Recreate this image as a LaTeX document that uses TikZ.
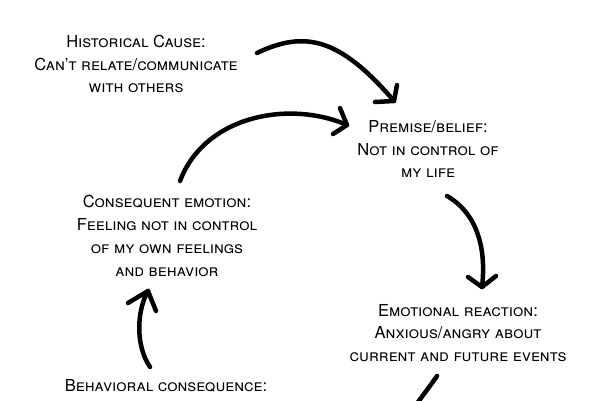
\documentclass[tikz,border=0pt]{standalone}
\usepackage{fontspec}
\setmainfont{TeX Gyre Heros}
\begin{document}
\begin{tikzpicture}[x=1pt,y=-1pt,
  lbl/.style={align=center,font=\fontsize{16.5}{22.8}\selectfont\scshape,inner sep=0pt,anchor=center},
  stroke/.style={line width=4.5pt,line cap=round,line join=round,black}]
\useasboundingbox (0,0) rectangle (600,400);
% texts
\node[lbl] (hist) at (136,64) {Historical Cause:\\Can’t relate/communicate\\with others};
\node[lbl] (prem) at (428,149) {Premise/belief:\\Not in control of\\my life};
\node[lbl] (cons) at (167,236) {Consequent emotion:\\Feeling not in control\\of my own feelings\\and behavior};
\node[lbl] (emo) at (458,333) {Emotional reaction:\\Anxious/angry about\\current and future events};
\node[lbl] (beh) at (166,386) {Behavioral consequence:};
% arrow end points
\coordinate (a1s) at (257,53);
\coordinate (a1t) at (394,101);
\coordinate (a2s) at (180,181);
\coordinate (a2t) at (347,125);
\coordinate (a3s) at (447,196);
\coordinate (a3t) at (482,287);
\coordinate (a4s) at (150,367);
\coordinate (a4t) at (148,291);
\coordinate (a5s) at (437,376);
\coordinate (a5t) at (418,402);
% arrows
\draw[stroke] (a1s) .. controls (305,30) and (340,38) .. (a1t);
\draw[stroke] (a1t) -- (397,85) (a1t) -- (375,102);
\draw[stroke] (a2s) .. controls (205,115) and (290,100) .. (a2t);
\draw[stroke] (a2t) -- (340,108) (a2t) -- (333,134);
\draw[stroke] (a3s) .. controls (475,212) and (487,245) .. (a3t);
\draw[stroke] (a3t) -- (468,277) (a3t) -- (496,276);
\draw[stroke] (a4s) .. controls (135,345) and (137,310) .. (a4t);
\draw[stroke] (a4t) -- (128,303) (a4t) -- (156,311);
\draw[stroke] (a5s) .. controls (430,386) and (424,394) .. (a5t);
\end{tikzpicture}
\end{document}
